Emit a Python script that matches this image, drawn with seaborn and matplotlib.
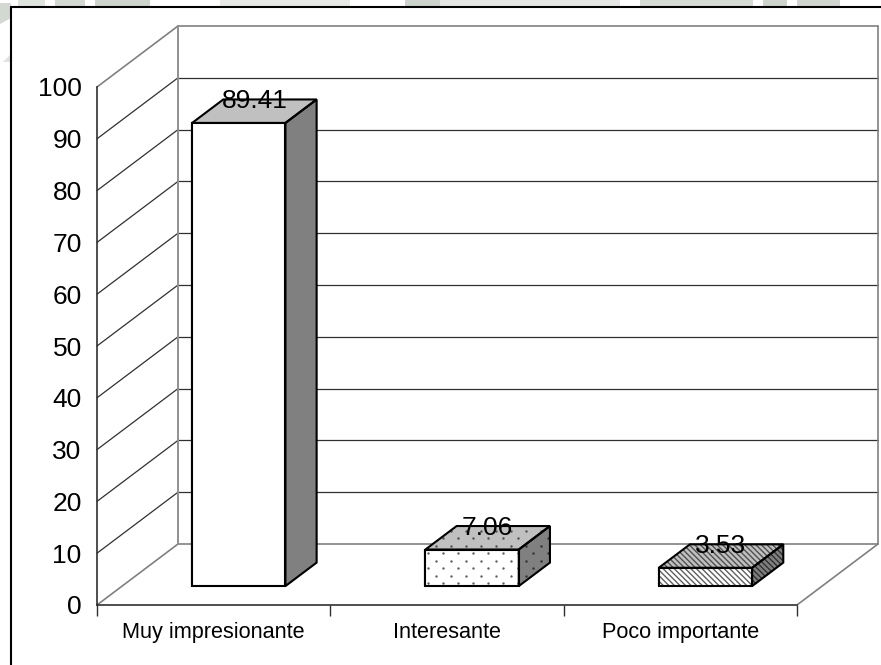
## Recreate the 3D-look Excel bar chart with seaborn
import pandas as pd
import seaborn as sns
import matplotlib.pyplot as plt
from matplotlib.patches import Polygon

categories = ['Muy impresionante', 'Interesante', 'Poco importante']
values = [89.41, 7.06, 3.53]
value_labels = ['89.41', '7.06', '3.53']
y_ticks = [0, 10, 20, 30, 40, 50, 60, 70, 80, 90, 100]

W, H = 881, 665

sns.set_theme(style='white')
plt.rcParams['font.family'] = ['Liberation Sans', 'DejaVu Sans']
plt.rcParams['hatch.linewidth'] = 1.0

df = pd.DataFrame({'categoria': categories, 'valor': values})

fig = plt.figure(figsize=(W / 100, H / 100), dpi=100, facecolor='white')


def axes_px(x0, x1, y_bottom, y_top, **kw):
    return fig.add_axes([x0 / W, 1 - y_bottom / H, (x1 - x0) / W, (y_bottom - y_top) / H], **kw)


# outer frame (right side runs off the picture) and the faded watermark behind it
bg = fig.add_axes([0, 0, 1, 1], zorder=0)
bg.set_xlim(0, W)
bg.set_ylim(H, 0)
bg.axis('off')
for x0, x1, col in [(18, 45, '#dfe4de'), (55, 85, '#d3d9d2'), (95, 150, '#cdd4cc'),
                    (220, 350, '#e6e9e5'), (405, 440, '#ccd3cb'), (440, 620, '#e3e6e2'),
                    (640, 753, '#d5dbd4'), (763, 787, '#cdd4cc'), (797, 840, '#d0d6cf')]:
    bg.fill_between([x0, x1], 0, 7, color=col, lw=0)
bg.add_patch(Polygon([(0, 3), (11, 3), (11, 18), (0, 24)], closed=True, facecolor='#d3d9d2', edgecolor='none'))
bg.add_patch(Polygon([(3, 62), (11, 54), (11, 62)], closed=True, facecolor='#e0e4df', edgecolor='none'))
bg.plot([11, 11], [H, 7], color='black', lw=1.5)
bg.plot([11, W], [7, 7], color='black', lw=1.5)

# front plane of the chart, 97-797 px wide, 0 at y=605, 100 at y=87
ax = axes_px(97, 797, 605, 87, zorder=1)
ax.set_xlim(-0.5, 2.5)
ax.set_ylim(0, 100)
ax.patch.set_alpha(0)

# depth of the box in data units
PX_X = 3 / 700
PX_Y = 100 / 518
DX = 81 * PX_X
DY = 61 * PX_Y
GRID = '#303030'
WALL = '#808080'

for v in y_ticks:
    col = WALL if v in (0, 100) else GRID
    lw = 1.2 if v in (0, 100) else 0.9
    ax.plot([-0.5, -0.5 + DX], [v, v + DY], color=col, lw=lw, clip_on=False, zorder=1)
    ax.plot([-0.5 + DX, 2.5 + DX], [v + DY, v + DY], color=col, lw=lw, clip_on=False, zorder=1)

ax.plot([-0.5 + DX, -0.5 + DX], [DY, 100 + DY], color='#909090', lw=1.4, clip_on=False, zorder=1)
ax.plot([2.5 + DX, 2.5 + DX], [DY, 100 + DY], color=WALL, lw=1.2, clip_on=False, zorder=1)
ax.plot([2.5, 2.5 + DX], [0, DY], color=WALL, lw=1.2, clip_on=False, zorder=1)

ax.set_yticks(y_ticks)
ax.set_xticks([-0.5, 0.5, 1.5, 2.5])
ax.set_xticklabels([])
ax.tick_params(axis='y', length=8, width=1, color='#303030', labelsize=19, pad=3, labelcolor='black')
ax.tick_params(axis='x', length=8, width=1, color='#303030', bottom=True)
for side in ['top', 'right']:
    ax.spines[side].set_visible(False)
for side in ['left', 'bottom']:
    ax.spines[side].set_color('#303030')
    ax.spines[side].set_linewidth(1.2)
for i, name in enumerate(categories):
    ax.text(i, -5.4, name, ha='center', va='center', fontsize=15.6, color='black')

# bars stand a bit behind the front plane, so they get their own shifted axes
FRONT = 0.31
BACK = 0.385
shift_x = FRONT * 81
shift_y = FRONT * 61
ax_bars = axes_px(97 + shift_x, 797 + shift_x, 605 - shift_y, 87 - shift_y, zorder=2)
ax_bars.patch.set_alpha(0)

sns.barplot(data=df, x='categoria', y='valor', width=0.4, color='white',
            edgecolor='black', linewidth=1.5, saturation=1, ax=ax_bars, zorder=3)
ax_bars.set_xlim(-0.5, 2.5)
ax_bars.set_ylim(0, 100)
ax_bars.axis('off')


def dots(poly, x0, y0, x1, y1, col):
    # Excel's dotted fill: staggered rows, 15 px apart in a row, 7.5 px between rows
    xs, ys = [], []
    for j in range(int((y1 - y0) / (7.5 * PX_Y)) + 2):
        for i in range(int((x1 - x0) / (15 * PX_X)) + 2):
            xs.append(x0 + (i * 15 + (j % 2) * 7.5 + 3) * PX_X)
            ys.append(y0 + (j * 7.5 + 3) * PX_Y)
    pts = ax_bars.scatter(xs, ys, s=3.0, color=col, linewidths=0, zorder=5, clip_on=True)
    pts.set_clip_path(poly)


hatches = [None, 'dots', '\\\\\\\\\\\\']
dx = BACK * DX
dy = BACK * DY
for bar, hatch, lab in zip(ax_bars.patches, hatches, value_labels):
    x0, w, h = bar.get_x(), bar.get_width(), bar.get_height()
    x1 = x0 + w
    top = [(x0, h), (x1, h), (x1 + dx, h + dy), (x0 + dx, h + dy)]
    side = [(x1, 0), (x1 + dx, dy), (x1 + dx, h + dy), (x1, h)]
    front = [(x0, 0), (x1, 0), (x1, h), (x0, h)]
    for pts, face, hcol in [(top, '#c0c0c0', '#505050'), (side, '#808080', '#303030'),
                            (front, 'white', '#606060')]:
        poly = Polygon(pts, closed=True, facecolor=face, edgecolor='none', clip_on=False, zorder=4)
        ax_bars.add_patch(poly)
        if hatch == 'dots':
            dots(poly, x0, 0, x1 + dx, h + dy, hcol)
        elif hatch:
            ax_bars.add_patch(Polygon(pts, closed=True, fill=False, edgecolor=hcol, hatch=hatch,
                                      linewidth=0, clip_on=False, zorder=5))
        ax_bars.add_patch(Polygon(pts, closed=True, fill=False, edgecolor='black', linewidth=1.5,
                                  joinstyle='miter', clip_on=False, zorder=6))
    ax_bars.text(x0 + w / 2 + dx / 2, h + dy - 0.3, lab, ha='center', va='center', fontsize=19,
                 color='black', clip_on=False, zorder=7)

fig.savefig('out.png', dpi=100)
